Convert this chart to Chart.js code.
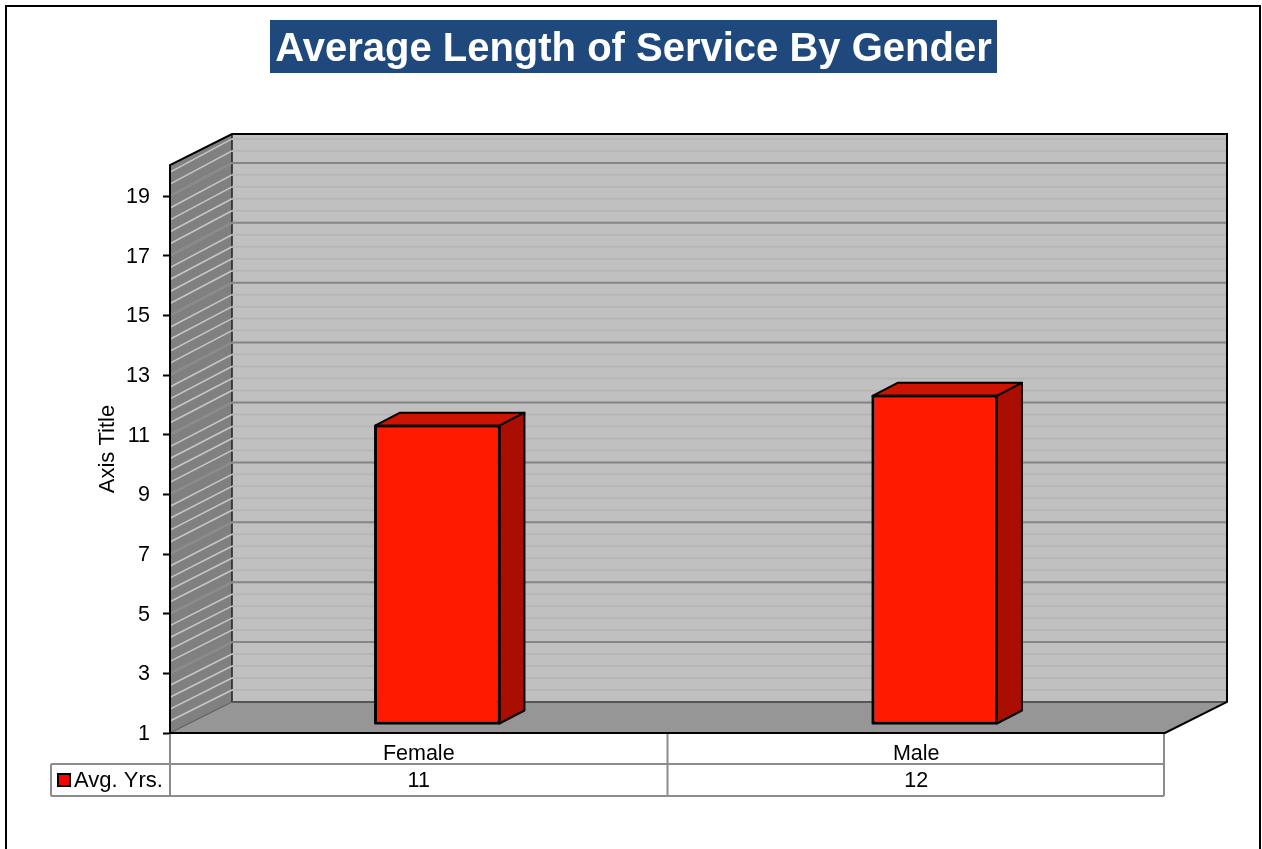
<!DOCTYPE html>
<html>
<head>
<meta charset="utf-8">
<title>Average Length of Service By Gender</title>
<style>
    html, body { margin: 0; padding: 0; background: #fff; overflow: hidden; }
    canvas { display: block; }
</style>
<script src="https://cdn.jsdelivr.net/npm/chart.js@4/dist/chart.umd.min.js"></script>
</head>
<body>
<canvas id="chart" width="1262" height="849"></canvas>
<script>
const categories = ['Female', 'Male'];
const avgYears = [11, 12];
const yTicks = [1, 3, 5, 7, 9, 11, 13, 15, 17, 19];
const majorGrid = [3, 5, 7, 9, 11, 13, 15, 17, 19];
const minorStep = 0.4;

const fontName = '"Liberation Sans", Arial, sans-serif';
const wallDx = 62, wallDy = -31;     // back wall offset from the front plane
const wallStretch = 1.004;           // back wall scale runs a touch taller than the front one
const barDx = 18.5, barDy = -9;      // bars stand a bit inside the floor
const barDepthX = 25, barDepthY = -13;

function line(ctx, x1, y1, x2, y2, color, width) {
    ctx.strokeStyle = color;
    ctx.lineWidth = width;
    ctx.beginPath();
    ctx.moveTo(x1, y1);
    ctx.lineTo(x2, y2);
    ctx.stroke();
}

function poly(ctx, pts, fill) {
    ctx.fillStyle = fill;
    ctx.beginPath();
    pts.forEach((p, i) => i ? ctx.lineTo(p[0], p[1]) : ctx.moveTo(p[0], p[1]));
    ctx.closePath();
    ctx.fill();
}

// frame and the title box
const framePlugin = {
    id: 'frame',
    beforeDraw(chart) {
        const ctx = chart.ctx;
        ctx.save();
        ctx.fillStyle = '#fff';
        ctx.fillRect(0, 0, chart.width, chart.height);
        ctx.strokeStyle = '#000';
        ctx.lineWidth = 2;
        ctx.strokeRect(6, 6, 1254, 860);
        ctx.fillStyle = '#1f497d';
        ctx.fillRect(270, 20, 727, 53);
        ctx.restore();
    }
};

// the 3D box: side wall, back wall, floor
const wallsPlugin = {
    id: 'walls',
    beforeDatasetsDraw(chart) {
        const ctx = chart.ctx;
        const { left, right, top, bottom } = chart.chartArea;
        const y = chart.scales.y;
        const backY = py => bottom + wallDy - (bottom - py) * wallStretch;
        ctx.save();
        poly(ctx, [[left + wallDx, top + wallDy], [right + wallDx, top + wallDy], [right + wallDx, bottom + wallDy], [left + wallDx, bottom + wallDy]], '#c0c0c0');
        poly(ctx, [[left, top], [left + wallDx, top + wallDy], [left + wallDx, bottom + wallDy], [left, bottom]], '#808080');
        poly(ctx, [[left, bottom], [left + wallDx, bottom + wallDy], [right + wallDx, bottom + wallDy], [right, bottom]], '#969696');

        line(ctx, left + wallDx, top + wallDy, left + wallDx, bottom + wallDy, '#202020', 1.5);

        for (let v = y.min + minorStep; v < y.max - 0.1; v += minorStep) {
            const py = y.getPixelForValue(v);
            line(ctx, left + wallDx, backY(py), right + wallDx, backY(py), '#b6b6b6', 2);
            line(ctx, left, py, left + wallDx, backY(py), '#c6c6c6', 1.6);
        }
        majorGrid.forEach(v => {
            const py = y.getPixelForValue(v);
            line(ctx, left + wallDx, backY(py), right + wallDx, backY(py), '#868686', 2);
            line(ctx, left, py, left + wallDx, backY(py), '#8a8a8a', 2.2);
        });

        // edges
        line(ctx, left + wallDx, bottom + wallDy, right + wallDx, bottom + wallDy, '#555', 2);
        line(ctx, left, bottom, left + wallDx, bottom + wallDy, '#555', 1);
        ctx.lineJoin = 'miter';
        ctx.strokeStyle = '#000';
        ctx.lineWidth = 2;
        ctx.beginPath();
        ctx.moveTo(left, bottom);
        ctx.lineTo(left, top);
        ctx.lineTo(left + wallDx, top + wallDy);
        ctx.lineTo(right + wallDx, top + wallDy);
        ctx.lineTo(right + wallDx, bottom + wallDy);
        ctx.lineTo(right, bottom);
        ctx.lineTo(left, bottom);
        ctx.stroke();
        ctx.restore();
    },
    // bars are drawn by the library, pushed back onto the floor
    beforeDatasetDraw(chart, args) {
        const ctx = chart.ctx;
        ctx.save();
        ctx.translate(barDx, barDy);
        ctx.lineJoin = 'round';
        args.meta.data.forEach(bar => {
            const { x, y, width, base } = bar.getProps(['x', 'y', 'width', 'base'], true);
            const l = x - width / 2, r = x + width / 2;
            const top = [[l, y], [l + barDepthX, y + barDepthY], [r + barDepthX, y + barDepthY], [r, y]];
            const side = [[r, y], [r + barDepthX, y + barDepthY], [r + barDepthX, base + barDepthY], [r, base]];
            [[top, '#cc1400'], [side, '#aa0e00']].forEach(([pts, color]) => {
                poly(ctx, pts, color);
                ctx.strokeStyle = '#000';
                ctx.lineWidth = 2;
                ctx.stroke();
            });
        });
    },
    afterDatasetDraw(chart, args) {
        const ctx = chart.ctx;
        // crisper outline round the front face
        args.meta.data.forEach(bar => {
            const { x, y, width, base } = bar.getProps(['x', 'y', 'width', 'base'], true);
            ctx.strokeStyle = '#000';
            ctx.lineWidth = 2;
            ctx.strokeRect(x - width / 2, y, width, base - y);
        });
        ctx.restore();
    }
};

// data table under the chart
const tablePlugin = {
    id: 'dataTable',
    afterDraw(chart) {
        const ctx = chart.ctx;
        const x = chart.scales.x;
        const { bottom } = chart.chartArea;
        const mid = (x.getPixelForValue(0) + x.getPixelForValue(1)) / 2;
        const rowY = 764, endY = 796, keyLeft = 51;
        const gray = '#8c8c8c';
        ctx.save();
        line(ctx, x.left, bottom + 1, x.left, endY, gray, 2);
        line(ctx, mid, bottom + 1, mid, endY, gray, 2);
        line(ctx, x.right - 1, bottom + 1, x.right - 1, endY, gray, 2);
        line(ctx, keyLeft, rowY, x.right - 1, rowY, gray, 2);
        line(ctx, keyLeft, endY, x.right - 1, endY, gray, 2);
        line(ctx, keyLeft, rowY, keyLeft, endY, gray, 2);

        ctx.font = '21.5px ' + fontName;
        ctx.fillStyle = '#000';
        ctx.textBaseline = 'middle';
        ctx.textAlign = 'center';
        avgYears.forEach((v, i) => ctx.fillText(String(v), x.getPixelForValue(i), 781));

        ctx.fillStyle = '#ff0000';
        ctx.fillRect(58, 774, 12, 12);
        ctx.strokeStyle = '#000';
        ctx.lineWidth = 2;
        ctx.strokeRect(58, 774, 12, 12);

        ctx.font = '22px ' + fontName;
        ctx.fillStyle = '#000';
        ctx.textAlign = 'left';
        ctx.fillText('Avg. Yrs.', 74, 781);
        ctx.restore();
    }
};

new Chart(document.getElementById('chart'), {
    type: 'bar',
    data: {
        labels: categories,
        datasets: [{
            label: 'Avg. Yrs.',
            data: avgYears,
            base: 1,
            clip: false,
            backgroundColor: '#ff1a00',
            borderColor: '#000',
            borderWidth: 2,
            borderSkipped: false,
            categoryPercentage: 1,
            barPercentage: 0.25
        }]
    },
    options: {
        responsive: false,
        animation: false,
        devicePixelRatio: 1,
        layout: { padding: { left: 5, top: 0, right: 0, bottom: 0 } },
        plugins: {
            legend: { display: false },
            tooltip: { enabled: false },
            title: {
                display: true,
                text: 'Average Length of Service By Gender',
                color: '#fff',
                font: { family: fontName, size: 40, weight: 'bold' },
                padding: { top: 26, bottom: 91 }
            }
        },
        scales: {
            x: {
                grid: { display: false },
                border: { display: false },
                ticks: { color: '#000', font: { family: fontName, size: 21.5 }, padding: 0, maxRotation: 0 },
                afterFit(scale) { scale.height = 116; }
            },
            y: {
                min: 1,
                max: 20.04,
                afterBuildTicks(scale) { scale.ticks = yTicks.map(v => ({ value: v })); },
                grid: { drawOnChartArea: false, tickLength: 7, tickWidth: 2, tickColor: '#000' },
                border: { display: false },
                ticks: { color: '#000', font: { family: fontName, size: 21.5 }, padding: 13, labelOffset: 1 },
                title: {
                    display: true,
                    text: 'Axis Title',
                    color: '#000',
                    font: { family: fontName, size: 22 },
                    padding: { top: 90, bottom: 0 }
                },
                afterFit(scale) { scale.width = 165; }
            },
            // empty axis, only keeps the room right of the box while the title stays centred on the page
            spacer: {
                type: 'linear',
                position: 'right',
                grid: { display: false },
                border: { display: false },
                ticks: { display: false },
                afterFit(scale) { scale.width = 97; }
            }
        }
    },
    plugins: [framePlugin, wallsPlugin, tablePlugin]
});
</script>
</body>
</html>
